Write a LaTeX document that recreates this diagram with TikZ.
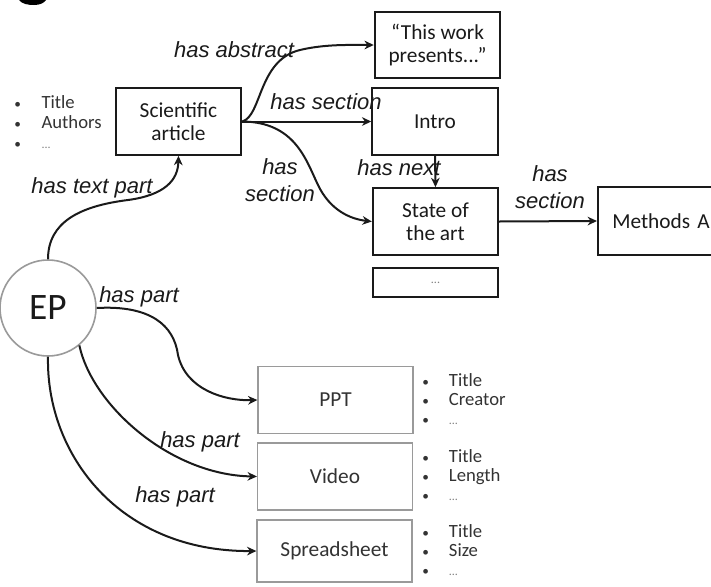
\documentclass[tikz,border=0pt]{standalone}
\usepackage{fontspec}
\setmainfont{Carlito}
\newfontfamily\labfont{Liberation Sans}
\usetikzlibrary{arrows.meta}
\definecolor{ink}{HTML}{1A1A1A}
\definecolor{greyline}{HTML}{9A9A9A}
\definecolor{greytext}{HTML}{333333}
\newcommand{\bulx}{\makebox[5pt][c]{\fontsize{10}{10}\selectfont\textbullet}}
\newcommand{\dotsx}{\textcolor{gray}{\fontsize{9}{9}\selectfont ...}}
\begin{document}
\begin{tikzpicture}[x=0.75pt,y=-0.75pt,
  mainbox/.style={draw=ink, line width=1.6pt, fill=white, inner sep=2pt, align=center,
     text=ink, font=\fontsize{16}{17.5}\selectfont, minimum width=94pt, minimum height=50pt},
  subbox/.style={draw=greyline, line width=1.2pt, fill=white, align=center,
     text=greytext, font=\fontsize{16}{17.5}\selectfont, minimum width=116pt, minimum height=50pt},
  conn/.style={draw=ink, line width=1.5pt, -{Stealth[length=7pt,width=6.5pt]}},
  lab/.style={text=ink, font=\labfont\itshape\fontsize{16.5}{20}\selectfont, inner sep=0pt, align=center},
  blist/.style={inner sep=0pt, text=greytext, anchor=west},
]
\useasboundingbox (0,0) rectangle (711,586);

% cut-off fragment of the panel letter at the top edge
\fill[black] (19,0) .. controls (22,4) and (28,5) .. (34,5) .. controls (40,5) and (44,3) .. (46,0) -- cycle;

% main boxes
\node[mainbox] (sci) at (178.5,121.5) {Scientific\\article};
\node[mainbox, minimum height=49.5pt] (abs) at (437.5,45) {``This work\\presents...''};
\node[mainbox] (intro) at (435,121.5) {Intro};
\node[mainbox] (sota) at (435.5,221.5) {State of\\the art};
\node[mainbox, minimum height=21.75pt] (more) at (435.5,282.5) {\dotsx};
\node[mainbox, minimum width=106.5pt, minimum height=51pt, text width=85pt, inner xsep=10.5pt, align=left] (meth) at (669,221) {Methods A};

% EP
\node[circle, draw=greyline, line width=1.2pt, fill=white, minimum size=72pt, inner sep=0pt,
  text=ink, font=\fontsize{28}{28}\selectfont] (ep) at (48,308) {EP};

% sub boxes
\node[subbox] (ppt) at (335.5,400) {PPT};
\node[subbox] (video) at (335,476.5) {Video};
\node[subbox, minimum height=46.5pt] (sheet) at (334.5,551) {Spreadsheet};

% bullet lists
\node[blist, font=\fontsize{14}{15}\selectfont] (lsci) at (14,124) {\begin{tabular}{@{}l@{\hspace{15.5pt}}l@{}}\bulx & Title\\ \bulx & Authors\\ \bulx & \dotsx\end{tabular}};
\node[blist, font=\fontsize{14}{14.3}\selectfont] (lppt) at (422,402) {\begin{tabular}{@{}l@{\hspace{15pt}}l@{}}\bulx & Title\\ \bulx & Creator\\ \bulx & \dotsx\end{tabular}};
\node[blist, font=\fontsize{14}{14.3}\selectfont] (lvid) at (422,478) {\begin{tabular}{@{}l@{\hspace{15pt}}l@{}}\bulx & Title\\ \bulx & Length\\ \bulx & \dotsx\end{tabular}};
\node[blist, font=\fontsize{14}{14.3}\selectfont] (lsheet) at (422,553) {\begin{tabular}{@{}l@{\hspace{15pt}}l@{}}\bulx & Title\\ \bulx & Size\\ \bulx & \dotsx\end{tabular}};

% connectors
\draw[conn] (ep.north) .. controls (48,222) and (80,206) .. (128,200) .. controls (165,195) and (178,180) .. (sci.south);
\draw[conn] (sci.east) .. controls (262,116) and (258,60) .. (300,50) .. controls (325,44) and (350,45) .. (abs.west);
\draw[conn] (sci.east) -- (intro.west);
\draw[conn] (sci.east) .. controls (295,122) and (306,160) .. (318,185) .. controls (330,210) and (350,219) .. (sota.west);
\draw[conn] (intro.south) -- (sota.north);
\draw[conn] (sota.east) -- (meth.west);
\draw[conn] (ep.east) .. controls (150,305) and (174,325) .. (178,355) .. controls (186,390) and (225,401) .. (ppt.west);
\draw[conn] (ep.-50) .. controls (92,405) and (170,475) .. (video.west);
\draw[conn] (ep.south) .. controls (46,455) and (120,552) .. (sheet.west);

% labels
\node[lab] (labs) at (234,50) {has abstract};
\node[lab] (lsec1) at (326,102) {has section};
\node[lab] (ltext) at (92,188) {has text part};
\node[lab] (lsec2) at (280,180) {has\\section};
\node[lab] (lnext) at (399,168) {has next};
\node[lab] (lsec3) at (550,187) {has\\section};
\node[lab] (lp1) at (139,297) {has part};
\node[lab] (lp2) at (200,442) {has part};
\node[lab] (lp3) at (175,497) {has part};
\end{tikzpicture}
\end{document}
